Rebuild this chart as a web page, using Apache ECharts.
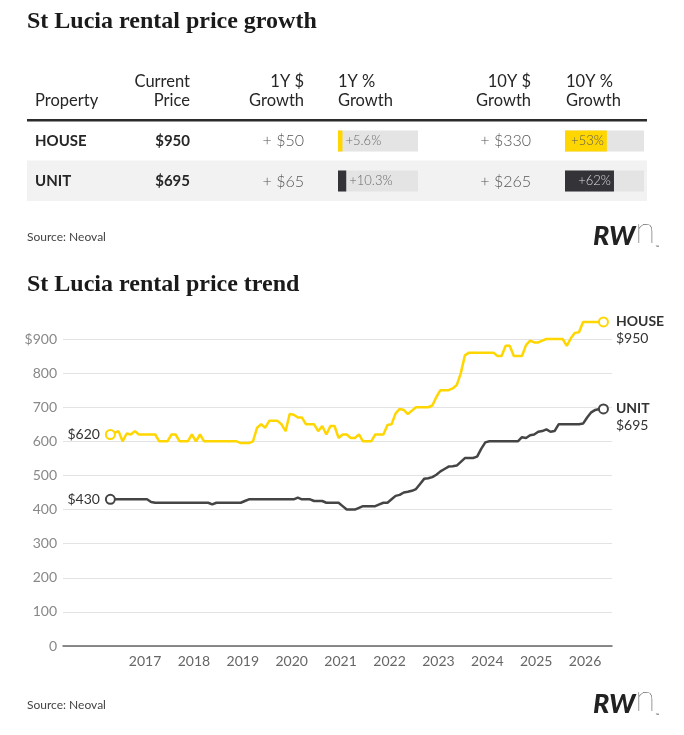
<!DOCTYPE html>
<html><head><meta charset="utf-8">
<script src="https://cdn.jsdelivr.net/npm/echarts@6/dist/echarts.min.js"></script>
<style>html,body{margin:0;padding:0;background:#fff}#c{width:684px;height:735px}</style>
</head><body><div id="c"></div>
<script>
// ---------- table data ----------
const properties = ['HOUSE', 'UNIT'];
const currentPrice = [950, 695];
const growth1YDollar = [50, 65];
const growth1YPct = [5.6, 10.3];
const growth10YDollar = [330, 265];
const growth10YPct = [53, 62];

// ---------- trend data (monthly, Apr 2016 .. May 2026) ----------
const startYear = 2016, startMonth = 4;
const houseRent = [
  620, 625, 630, 600, 623, 620, 630, 620, 620, 620,
  620, 620, 600, 600, 600, 620, 620, 600, 600, 600,
  620, 600, 620, 600, 600, 600, 600, 600, 600, 600,
  600, 600, 595, 595, 595, 600, 640, 650, 640, 660,
  660, 660, 650, 630, 680, 678, 670, 670, 650, 650,
  650, 630, 645, 620, 645, 645, 610, 620, 620, 610,
  610, 620, 600, 600, 600, 620, 620, 620, 648, 650,
  682, 695, 692, 680, 690, 700, 700, 700, 700, 705,
  730, 750, 750, 750, 755, 765, 800, 852, 860, 860,
  860, 860, 860, 860, 860, 850, 850, 880, 880, 850,
  850, 850, 882, 895, 890, 890, 895, 900, 900, 900,
  900, 900, 880, 902, 918, 920, 950, 950, 950, 950,
  950, 950
];
const unitRent = [
  430, 430, 430, 430, 430, 430, 430, 430, 430, 430,
  422, 420, 420, 420, 420, 420, 420, 420, 420, 420,
  420, 420, 420, 420, 420, 415, 420, 420, 420, 420,
  420, 420, 420, 425, 430, 430, 430, 430, 430, 430,
  430, 430, 430, 430, 430, 430, 435, 430, 430, 430,
  425, 425, 425, 420, 420, 420, 420, 410, 400, 400,
  400, 405, 410, 410, 410, 410, 415, 420, 420, 430,
  440, 443, 450, 452, 455, 460, 475, 490, 492, 495,
  502, 512, 519, 526, 527, 529, 540, 551, 551, 551,
  555, 578, 597, 600, 600, 600, 600, 600, 600, 600,
  600, 612, 610, 618, 620, 628, 630, 635, 628, 630,
  650, 650, 650, 650, 650, 650, 652, 670, 685, 692,
  695, 695
];
const xTickYears = [2017, 2018, 2019, 2020, 2021, 2022, 2023, 2024, 2025, 2026];
const yTickValues = [0, 100, 200, 300, 400, 500, 600, 700, 800, 900];
const yTickLabels = ['0', '100', '200', '300', '400', '500', '600', '700', '800', '$900'];

// ---------- styles ----------
const YELLOW = '#FFD600';
const DARK = '#333338';
const LINE_DARK = '#454545';
const barColors = [YELLOW, DARK];
const FONT = 'Lato, "Noto Sans", sans-serif';

function monthToYear(i) {
  return startYear + (startMonth - 1 + i + 0.5) / 12;
}
function buildLine(values, name) {
  const last = values.length - 1;
  return values.map((v, i) => {
    const item = { value: [monthToYear(i), v] };
    if (i === 0) {
      item.label = { show: true, position: 'left', distance: 5, formatter: '$' + v,
        color: '#333', fontSize: 14, fontFamily: FONT };
    } else if (i === last) {
      item.label = { show: true, position: 'right', distance: 7, offset: [0, 8],
        formatter: '{n|' + name + '}\n{v|$' + v + '}',
        rich: {
          n: { fontWeight: 'bold', fontSize: 14, color: '#333', lineHeight: 17, fontFamily: FONT },
          v: { fontSize: 14, color: '#333', lineHeight: 17, fontFamily: FONT }
        } };
    }
    return item;
  });
}

const graphics = [];
function txt(text, x, y, font, fill, align) {
  graphics.push({ type: 'text', z: 10, silent: true,
    style: { text, x, y, font, fill, textAlign: align || 'left', textVerticalAlign: 'middle' } });
}
// backgrounds
graphics.push({ type: 'rect', z: 0, silent: true, shape: { x: 27, y: 160.5, width: 620, height: 40.5 }, style: { fill: '#f2f2f2' } });
graphics.push({ type: 'rect', z: 0, silent: true, shape: { x: 27, y: 119, width: 620, height: 2.5 }, style: { fill: '#2b2b2b' } });

// titles
const TITLE_FONT = 'bold 24px "Liberation Serif", "DejaVu Serif", serif';
txt('St Lucia rental price growth', 27, 22, TITLE_FONT, '#1a1a1a');
txt('St Lucia rental price trend', 27, 285, TITLE_FONT, '#1a1a1a');

// table header
const HF = '16.5px ' + FONT;
const HC = '#262626';
txt('Property', 35, 101, HF, HC);
txt('Current', 190, 82, HF, HC, 'right');
txt('Price', 190, 101, HF, HC, 'right');
txt('1Y $', 304, 82, HF, HC, 'right');
txt('Growth', 304, 101, HF, HC, 'right');
txt('1Y %', 338, 82, HF, HC);
txt('Growth', 338, 101, HF, HC);
txt('10Y $', 531, 82, HF, HC, 'right');
txt('Growth', 531, 101, HF, HC, 'right');
txt('10Y %', 566, 82, HF, HC);
txt('Growth', 566, 101, HF, HC);

// table rows
properties.forEach((p, i) => {
  const y = 141 + 40.5 * i;
  txt(p, 35, y, 'bold 15px ' + FONT, '#262626');
  txt('$' + currentPrice[i], 190, y, 'bold 15px ' + FONT, '#262626', 'right');
  txt('+ $' + growth1YDollar[i], 304, y, '300 16px ' + FONT, '#555', 'right');
  txt('+ $' + growth10YDollar[i], 531, y, '300 16px ' + FONT, '#555', 'right');
});

// sources & logos
[237, 705].forEach(y => {
  txt('Source: Neoval', 27, y, '12px ' + FONT, '#444');
  graphics.push({ type: 'text', z: 10, silent: true,
    style: { x: 593, y: y - 6, textVerticalAlign: 'middle',
      text: '{rw|RW}{n|n}{tm|™}',
      rich: {
        rw: { fontFamily: FONT, fontWeight: 900, fontStyle: 'italic', fontSize: 27, fill: '#222', verticalAlign: 'bottom' },
        n: { fontFamily: FONT, fontWeight: 100, fontSize: 37, fill: '#222', verticalAlign: 'bottom' },
        tm: { fontFamily: FONT, fontSize: 5, fill: '#444', verticalAlign: 'bottom' }
      } } });
});

const chart = echarts.init(document.getElementById('c'), null, { renderer: 'canvas' });
const tableAxisX = (g) => ({ gridIndex: g, type: 'value', min: 0, max: 100, show: false });
const tableAxisY = (g) => ({ gridIndex: g, type: 'category', data: properties, inverse: true, show: false });

chart.setOption({
  animation: false,
  backgroundColor: '#fff',
  graphic: graphics,
  grid: [
    { left: 338, top: 121, width: 80, height: 80 },
    { left: 565, top: 121, width: 79, height: 80 },
    { left: 63, top: 339, width: 549, height: 307 }
  ],
  xAxis: [
    tableAxisX(0), tableAxisX(1),
    { gridIndex: 2, type: 'value', min: 2015.323, max: 2026.55,
      axisLine: { show: true, lineStyle: { color: '#666', width: 1.5 } },
      axisTick: { show: false },
      splitLine: { show: false },
      axisLabel: { customValues: xTickYears, formatter: v => String(v), color: '#666',
        fontSize: 14, fontFamily: FONT, margin: 8 } }
  ],
  yAxis: [
    tableAxisY(0), tableAxisY(1),
    { gridIndex: 2, type: 'value', min: 0, max: 900, interval: 100,
      axisLine: { show: false }, axisTick: { show: false },
      splitLine: { lineStyle: { color: '#e3e3e3', width: 1.2 } },
      axisLabel: { formatter: v => yTickLabels[yTickValues.indexOf(v)], color: '#888',
        fontSize: 14, fontFamily: FONT, margin: 6 } }
  ],
  series: [
    { type: 'bar', xAxisIndex: 0, yAxisIndex: 0, barWidth: 21, silent: true,
      showBackground: true, backgroundStyle: { color: '#e4e4e4' },
      data: growth1YPct.map((v, i) => ({ value: v, itemStyle: { color: barColors[i] } })),
      label: { show: true, position: 'right', distance: 3, formatter: p => '+' + p.value + '%',
        color: '#6a6a6a', fontSize: 13, fontFamily: FONT, fontWeight: 300 } },
    { type: 'bar', xAxisIndex: 1, yAxisIndex: 1, barWidth: 21, silent: true,
      showBackground: true, backgroundStyle: { color: '#e4e4e4' },
      data: growth10YPct.map((v, i) => ({ value: v, itemStyle: { color: barColors[i] },
        label: { color: i === 0 ? '#5a5a5a' : '#ddd' } })),
      label: { show: true, position: 'insideRight', distance: 3, formatter: p => '+' + p.value + '%',
        fontSize: 13, fontFamily: FONT, fontWeight: 300 } },
    { type: 'line', name: 'HOUSE', xAxisIndex: 2, yAxisIndex: 2, clip: false, z: 4,
      data: buildLine(houseRent, 'HOUSE'),
      symbol: 'emptyCircle',
      symbolSize: (val, p) => (p.dataIndex === 0 || p.dataIndex === houseRent.length - 1) ? 9 : 0,
      showAllSymbol: true,
      lineStyle: { color: YELLOW, width: 2.5 }, itemStyle: { color: YELLOW, borderWidth: 2 } },
    { type: 'line', name: 'UNIT', xAxisIndex: 2, yAxisIndex: 2, clip: false, z: 3,
      data: buildLine(unitRent, 'UNIT'),
      symbol: 'emptyCircle',
      symbolSize: (val, p) => (p.dataIndex === 0 || p.dataIndex === unitRent.length - 1) ? 9 : 0,
      showAllSymbol: true,
      lineStyle: { color: LINE_DARK, width: 2.5 }, itemStyle: { color: LINE_DARK, borderWidth: 2 } }
  ]
});
</script>
</body></html>
